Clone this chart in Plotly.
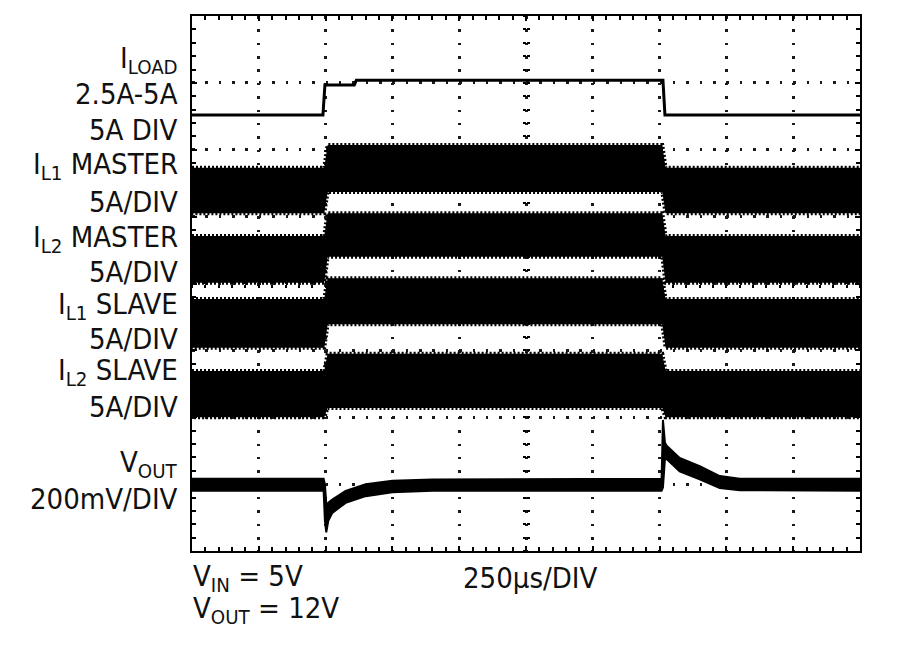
import plotly.graph_objects as go

# ---------------- data (time in divisions of 250us, amplitude in screen divisions) ----------------
iload_t = [0, 1.96, 1.99, 2.43, 2.46, 7.05, 7.08, 10]
iload_v = [6.52, 6.52, 6.97, 6.97, 7.04, 7.04, 6.52, 6.52]

band_t = [0, 1.98, 2.03, 7.04, 7.09, 10]
il1_master_hi = [5.73, 5.73, 6.07, 6.07, 5.73, 5.73]
il1_master_lo = [5.05, 5.05, 5.37, 5.37, 5.05, 5.05]
il2_master_hi = [4.71, 4.71, 5.05, 5.05, 4.71, 4.71]
il2_master_lo = [4.01, 4.01, 4.40, 4.40, 4.01, 4.01]
il1_slave_hi = [3.77, 3.77, 4.08, 4.08, 3.77, 3.77]
il1_slave_lo = [3.04, 3.04, 3.39, 3.39, 3.04, 3.04]
il2_slave_hi = [2.69, 2.69, 2.95, 2.95, 2.69, 2.69]
il2_slave_lo = [2.00, 2.00, 2.14, 2.14, 2.00, 2.00]

vout_t = [0, 1.97, 1.99, 2.01, 2.04, 2.10, 2.30, 2.60, 3.00, 3.60, 7.03, 7.05, 7.08, 7.11, 7.30, 7.60, 7.90, 8.20, 10]
vout_hi = [1.08, 1.08, 1.00, 0.70, 0.72, 0.77, 0.90, 1.00, 1.05, 1.07, 1.08, 1.96, 1.62, 1.57, 1.39, 1.27, 1.12, 1.08, 1.08]
vout_lo = [0.90, 0.90, 0.45, 0.28, 0.45, 0.57, 0.72, 0.82, 0.88, 0.90, 0.90, 0.95, 1.38, 1.37, 1.19, 1.07, 0.94, 0.91, 0.90]

left_labels = ["I<sub>LOAD</sub>", "2.5A-5A", "5A DIV",
               "I<sub>L1</sub> MASTER", "5A/DIV",
               "I<sub>L2</sub> MASTER", "5A/DIV",
               "I<sub>L1</sub> SLAVE", "5A/DIV",
               "I<sub>L2</sub> SLAVE", "5A/DIV",
               "V<sub>OUT</sub>", "200mV/DIV"]
left_label_px = [60, 94, 130, 166, 202, 239, 272, 306, 339, 372, 407, 464, 499]

bottom_labels = ["V<sub>IN</sub> = 5V", "V<sub>OUT</sub> = 12V", "250µs/DIV"]
bottom_label_pos = [(193, 578), (193, 610), (463, 578)]

# ---------------- figure ----------------
W, H = 900, 657
L, R, T, B = 192, 860, 16, 551
FONT = "DejaVu Sans Condensed, Liberation Sans Narrow, Arial Narrow, sans-serif"
INK = "#111111"

fig = go.Figure()

for hi, lo, t, lw, dash in [(il1_master_hi, il1_master_lo, band_t, 4, "2px,2px"),
                            (il2_master_hi, il2_master_lo, band_t, 4, "2px,2px"),
                            (il1_slave_hi, il1_slave_lo, band_t, 4, "2px,2px"),
                            (il2_slave_hi, il2_slave_lo, band_t, 4, "2px,2px"),
                            (vout_hi, vout_lo, vout_t, 2, "solid")]:
    fig.add_trace(go.Scatter(x=t + t[::-1], y=hi + lo[::-1], fill="toself",
                             fillcolor="#000000", mode="lines",
                             line=dict(color="#000000", width=lw, dash=dash),
                             hoverinfo="skip", showlegend=False))

fig.add_trace(go.Scatter(x=iload_t, y=iload_v, mode="lines",
                         line=dict(color="#000000", width=3),
                         hoverinfo="skip", showlegend=False))

# invisible traces to register center-crosshair axes
for xa, ya in [("x2", "y"), ("x3", "y"), ("x", "y2"), ("x", "y3")]:
    fig.add_trace(go.Scatter(x=[0], y=[0], xaxis=xa, yaxis=ya, mode="markers",
                             marker=dict(opacity=0), showlegend=False, hoverinfo="skip"))

common = dict(showticklabels=False, zeroline=False, fixedrange=True)
main_axis = dict(dtick=1, tick0=0, showgrid=True, gridcolor="#1a1a1a",
                 gridwidth=2.5, griddash="2.5px,10.86px",
                 showline=True, linecolor="#000000", linewidth=2, mirror="ticks",
                 ticks="inside", ticklen=5, tickcolor="#000000", tickwidth=1.5,
                 minor=dict(dtick=0.2, ticks="inside", ticklen=4, tickcolor="#000000",
                            tickwidth=1.5, showgrid=False),
                 **common)
center_axis = dict(anchor="free", position=0.5, tickmode="linear", tick0=0, dtick=0.2,
                   ticklen=3, tickcolor="#000000", tickwidth=1.5, showgrid=False,
                   showline=False, **common)
fig.update_layout(
    width=W, height=H,
    margin=dict(l=L, r=W - R, t=T, b=H - B, pad=0),
    paper_bgcolor="white", plot_bgcolor="white",
    font=dict(family=FONT, size=29, color=INK),
    xaxis=dict(range=[0, 10], **main_axis),
    yaxis=dict(range=[0, 8], **main_axis),
    xaxis2=dict(range=[0, 10], overlaying="x", ticks="inside", **center_axis),
    xaxis3=dict(range=[0, 10], overlaying="x", ticks="outside", **center_axis),
    yaxis2=dict(range=[0, 8], overlaying="y", ticks="inside", **center_axis),
    yaxis3=dict(range=[0, 8], overlaying="y", ticks="outside", **center_axis),
)

annotations = []
for txt, ypx in zip(left_labels, left_label_px):
    annotations.append(dict(text=txt, xref="paper", yref="paper", x=0,
                            y=(B - ypx) / (B - T), xanchor="right", yanchor="middle",
                            xshift=-12, showarrow=False, align="right"))
for txt, (xpx, ypx) in zip(bottom_labels, bottom_label_pos):
    annotations.append(dict(text=txt, xref="paper", yref="paper",
                            x=(xpx - L) / (R - L), y=(B - ypx) / (B - T),
                            xanchor="left", yanchor="middle", xshift=-2,
                            showarrow=False, align="left"))
fig.update_layout(annotations=annotations)

fig.write_html("out.html", config={"displayModeBar": False},
               post_script="document.body.style.margin='0';")
